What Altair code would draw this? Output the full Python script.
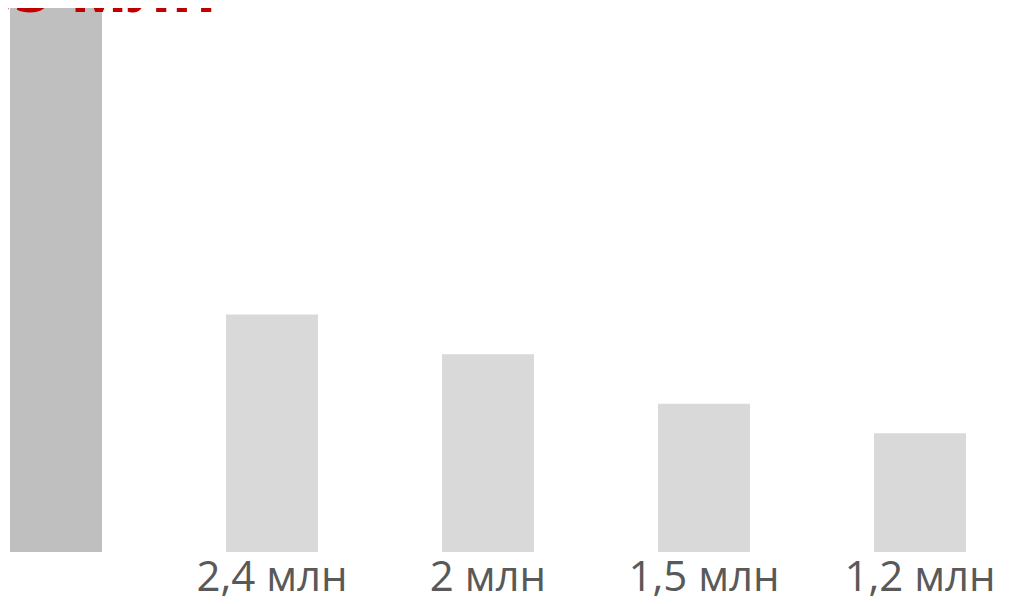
import altair as alt
import pandas as pd

categories = ["A", "B", "C", "D", "E"]
values = [5.5, 2.4, 2.0, 1.5, 1.2]
labels = ["5,5 млн", "2,4 млн", "2 млн", "1,5 млн", "1,2 млн"]
colors = ["#bfbfbf", "#d9d9d9", "#d9d9d9", "#d9d9d9", "#d9d9d9"]

df = pd.DataFrame({"cat": categories, "value": values, "label": labels,
                   "color": colors, "base": [0] * 5, "idx": list(range(5))})

xscale = alt.Scale(domain=[-0.2222, 4.3796], nice=False, zero=False)
yscale = alt.Scale(domain=[-0.4449, 5.5], nice=False, zero=False)

base = alt.Chart(df).transform_calculate(x0="datum.idx - 0.213", x1="datum.idx + 0.213")

bars = base.mark_bar().encode(
    x=alt.X("x0:Q", axis=None, scale=xscale),
    x2="x1:Q",
    y=alt.Y("value:Q", axis=None, scale=yscale),
    y2="base:Q",
    color=alt.Color("color:N", scale=None),
)

bottom = base.transform_filter("datum.idx > 0").mark_text(
    baseline="alphabetic", dy=39, font="Open Sans", fontSize=42, color="#595959"
).encode(x=alt.X("idx:Q", scale=xscale), y=alt.Y("base:Q", scale=yscale), text="label:N")

top = base.transform_filter("datum.idx == 0").mark_text(
    baseline="alphabetic", dx=30, dy=4, font="Open Sans", fontSize=68, fontWeight="bold",
    color="#c00000"
).encode(x=alt.X("idx:Q", scale=xscale), y=alt.Y("value:Q", scale=yscale), text="label:N")

chart = alt.layer(bars, bottom, top).properties(
    width=994, height=588, padding=0, autosize="none"
).configure_view(stroke=None)

chart.save("out.html", embed_options={"renderer": "svg", "actions": False})
